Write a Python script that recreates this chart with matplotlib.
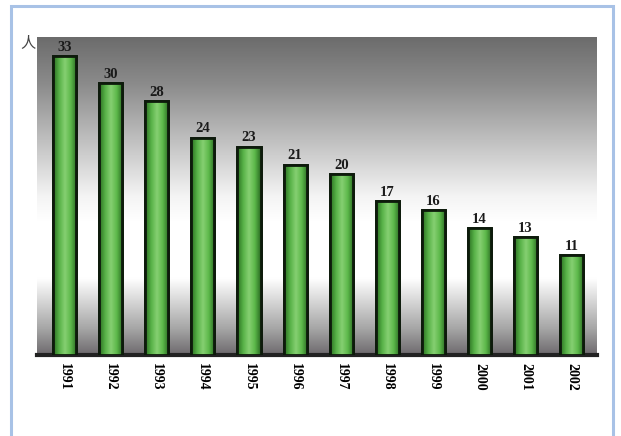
import matplotlib.pyplot as plt
import numpy as np
from matplotlib.colors import LinearSegmentedColormap
from matplotlib.patches import Rectangle

years = ['1991', '1992', '1993', '1994', '1995', '1996',
         '1997', '1998', '1999', '2000', '2001', '2002']
people = [33, 30, 28, 24, 23, 21, 20, 17, 16, 14, 13, 11]

plt.rcParams['font.family'] = ['Noto Sans CJK SC', 'DejaVu Sans']

fig = plt.figure(figsize=(6.21, 4.36), dpi=100)
fig.patch.set_facecolor('white')

# light blue frame round the picture
frame = Rectangle((11 / 621, -0.05), (613 - 11) / 621, 1 - 6 / 436 + 0.05,
                  transform=fig.transFigure, fill=False,
                  edgecolor='#a8c2e6', linewidth=2.2)
fig.patches.append(frame)

ax = fig.add_axes([37 / 621, 1 - 355 / 436, (597 - 37) / 621, (355 - 37) / 436])
x = np.arange(len(years))
xmin, xmax = -0.6, len(years) - 0.45
ymax = 35.1

# background: gray at top, white in the middle, gray at bottom
bg = LinearSegmentedColormap.from_list('bg', [
    (0.0, '#6c6c6c'), (0.15, '#8c8c8c'), (0.5, '#f4f4f4'), (0.58, '#ffffff'),
    (0.76, '#ffffff'), (0.92, '#a5a5a5'), (1.0, '#6e6a6e')])
grad = np.linspace(0, 1, 256).reshape(-1, 1)
ax.imshow(grad, cmap=bg, aspect='auto', extent=(xmin, xmax, 0, ymax),
          origin='upper', zorder=0)

bars = ax.bar(x, people, width=0.5, color='#5cb54a', edgecolor='#0d1a0b',
              linewidth=2.0, zorder=3)

# green shading across each bar
gcm = LinearSegmentedColormap.from_list('g', ['#2a6e22', '#56b046', '#86d072', '#5cb84a', '#2a6a22'])
hgrad = np.linspace(0, 1, 64).reshape(1, -1)
for b in bars:
    im = ax.imshow(hgrad, cmap=gcm, aspect='auto',
                   extent=(b.get_x(), b.get_x() + b.get_width(), 0, b.get_height()),
                   zorder=3.5)
    im.set_clip_path(b)
    edge = Rectangle((b.get_x(), 0), b.get_width(), b.get_height(), fill=False,
                     edgecolor='#0d1a0b', linewidth=2.0, zorder=4)
    ax.add_patch(edge)

for xi, v in zip(x, people):
    ax.text(xi, v + 0.25, str(v), ha='center', va='bottom', fontsize=10.5,
            fontweight='bold', family='Liberation Serif', color='#1a1a1a', zorder=5)

ax.set_xlim(xmin, xmax)
ax.set_ylim(0, ymax)
ax.set_xticks(x)
ax.set_xticklabels(years, rotation=270, fontsize=10, fontweight='bold',
                   family='Liberation Serif')
ax.tick_params(axis='x', length=0, pad=6)
ax.set_yticks([])
for s in ['top', 'right', 'left']:
    ax.spines[s].set_visible(False)
ax.spines['bottom'].set_linewidth(3)
ax.spines['bottom'].set_color('#222222')

fig.text(28 / 621, 1 - 43 / 436, '人', ha='center', va='center', fontsize=11,
         color='#444444')

fig.savefig('out.png', dpi=100)
